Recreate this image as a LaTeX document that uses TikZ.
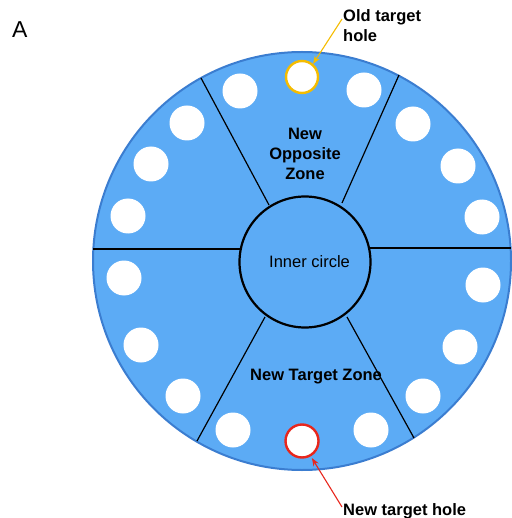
\documentclass[tikz,border=0pt]{standalone}
\usepackage{fontspec}
\setmainfont{Liberation Sans}
\usetikzlibrary{arrows.meta}
\definecolor{plate}{HTML}{5CABF5}
\definecolor{rim}{HTML}{3B7DD0}
\definecolor{oldc}{HTML}{F5BC00}
\definecolor{newc}{HTML}{E8261C}
\tikzset{
  hole/.style={circle,fill=white,minimum size=35pt,inner sep=0pt},
  ring/.style={circle,fill=white,minimum size=32pt,inner sep=0pt,line width=2.4pt},
  divider/.style={black,line width=1.2pt},
  lbl/.style={font=\bfseries\fontsize{16.5}{20}\selectfont,inner sep=0pt},
  callout/.style={line width=1.1pt,-{Stealth[length=8pt,width=6pt]}},
}
\begin{document}
\begin{tikzpicture}[x=1pt,y=-1pt]
\useasboundingbox (0,0) rectangle (511,518);
% plate
\node[circle,fill=plate,draw=rim,line width=2pt,minimum size=418pt,inner sep=0pt] (plate) at (302,261) {};
% sector lines
\draw[divider] (93,249) -- (240,249);
\draw[divider] (370,248) -- (511,248);
\draw[divider] (201,78) -- (269,205);
\draw[divider] (399,75) -- (342,203);
\draw[divider] (265,317) -- (197,441);
\draw[divider] (347,317) -- (414,438);
% inner circle
\node[circle,fill=plate,draw=black,line width=2.2pt,minimum size=131pt,inner sep=0pt] (inner) at (305,262) {};
% holes
\node[hole] (h1) at (240,91) {};
\node[hole] (h2) at (364,90) {};
\node[hole] (h3) at (187,123) {};
\node[hole] (h4) at (151,164) {};
\node[hole] (h5) at (128,216) {};
\node[hole] (h6) at (413,124) {};
\node[hole] (h7) at (458,166) {};
\node[hole] (h8) at (482,217) {};
\node[hole] (h9) at (124,278) {};
\node[hole] (h10) at (141,345) {};
\node[hole] (h11) at (183,396) {};
\node[hole] (h12) at (483,285) {};
\node[hole] (h13) at (460,347) {};
\node[hole] (h14) at (423,396) {};
\node[hole] (h15) at (233,430) {};
\node[hole] (h16) at (371,430) {};
\node[ring,draw=oldc] (oldhole) at (302,77) {};
\node[ring,draw=newc,minimum size=33pt] (newhole) at (302,441) {};
% texts
\node[anchor=base west,inner sep=0pt,font=\fontsize{23}{26}\selectfont] (panel) at (12,38) {A};
\node[lbl,anchor=north west,align=left] (oldlbl) at (343,9) {Old target\\hole};
\node[lbl,anchor=base west] (newlbl) at (343,515.5) {New target hole};
\node[lbl,anchor=north,align=center] (opp) at (305,127.5) {New\\Opposite\\Zone};
\node[lbl,anchor=base west] (tz) at (250,380.5) {New Target Zone};
\node[anchor=base west,inner sep=0pt,font=\fontsize{16.5}{20}\selectfont] (innerlbl) at (269,267.5) {Inner circle};
% callouts
\coordinate (oldstart) at (342,19);
\coordinate (newstart) at (342,507);
\draw[callout,oldc] (oldstart) -- (oldhole.50);
\draw[callout,newc,shorten >=2pt] (newstart) -- (newhole.-60);
\end{tikzpicture}
\end{document}
